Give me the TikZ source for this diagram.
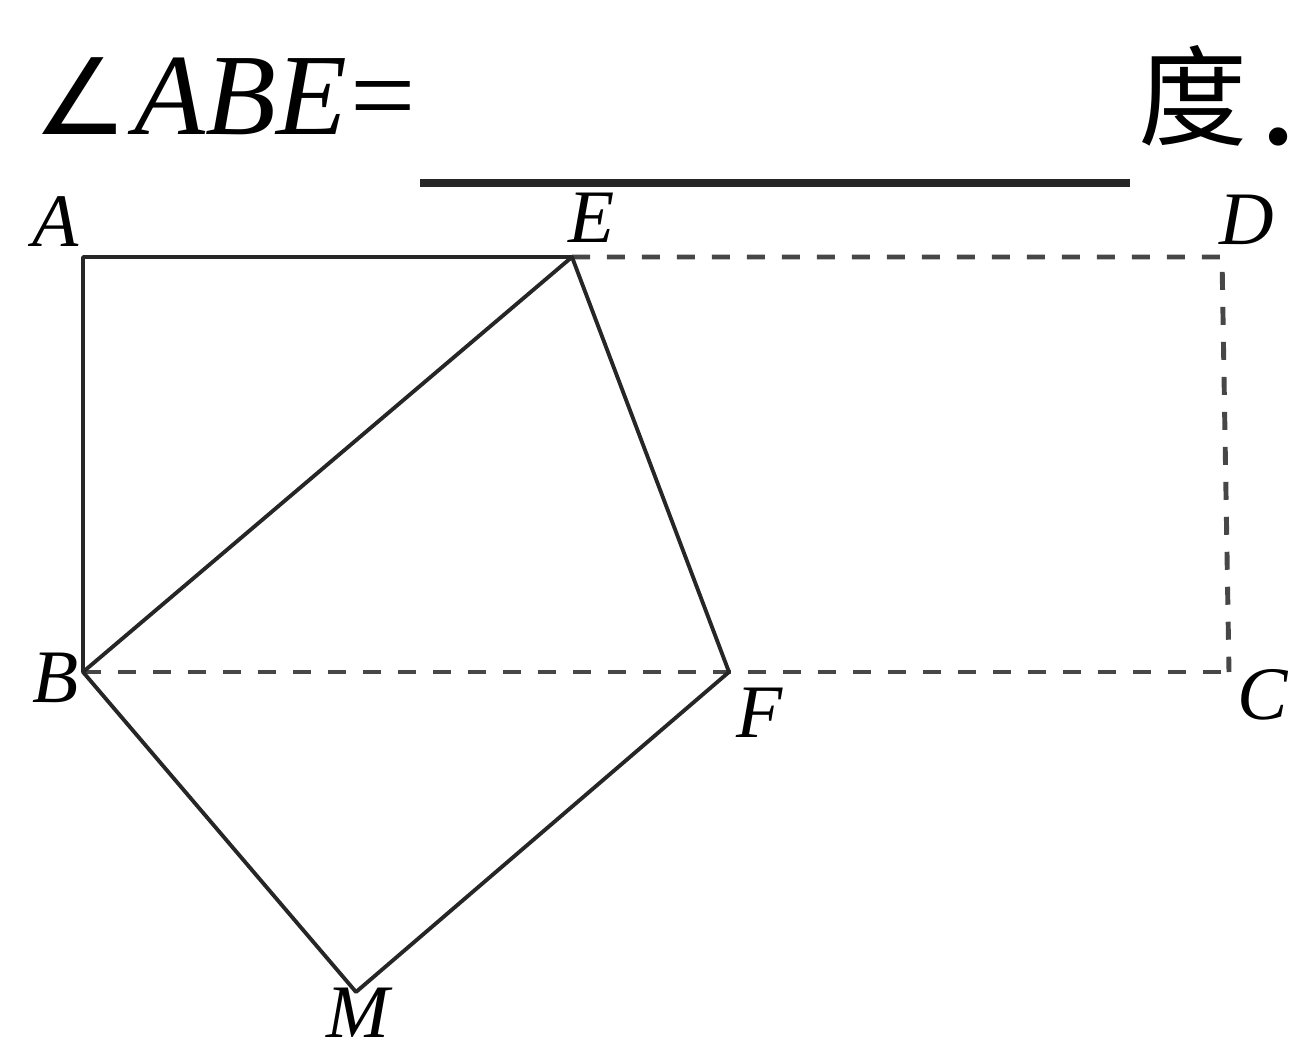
\documentclass[tikz,border=0pt]{standalone}
\usepackage{fontspec}
\setmainfont{Liberation Serif}
\newfontfamily\cjkf{Noto Sans CJK SC}
\newfontfamily\symf{DejaVu Sans}
\begin{document}
\begin{tikzpicture}[x=0.02cm,y=-0.02cm,
  solidline/.style={line width=2.2pt, black!85, line cap=round, line join=round},
  dashline/.style={line width=2.8pt, black!72, dash pattern=on 0.36cm off 0.34cm},
  lbl/.style={inner sep=0pt, font=\fontsize{43}{43}\selectfont\itshape}]
\useasboundingbox (0,0) rectangle (1299,1047);
% title
\node[anchor=base west, inner sep=0pt, font=\fontsize{66}{66}\selectfont] (title) at (33,135)
  {{\symf\fontsize{60}{60}\selectfont ∠}\hspace{4pt}\textit{ABE}\hspace{2pt}=};
\coordinate (u1) at (420,183);
\coordinate (u2) at (1130,183);
\draw[line width=4pt, black!85] (u1) -- (u2);
\node[inner sep=0pt, font=\cjkf\fontsize{62}{62}\selectfont] (du) at (1193,96) {度};
\node[anchor=base, inner sep=0pt, font=\fontsize{64}{64}\selectfont\bfseries] (dot) at (1279,145) {.};
% points
\coordinate (A) at (83,257);
\coordinate (E) at (572,257);
\coordinate (D) at (1222,257);
\coordinate (B) at (83,672);
\coordinate (F) at (729,672);
\coordinate (C) at (1229,672);
\coordinate (M) at (356,992);
% dashed
\draw[dashline] (E) -- (D) -- (C);
\draw[dashline] (B) -- (C);
% solid
\draw[solidline] (E) -- (A) -- (B) -- (E) -- (F) -- (M) -- (B);
% labels
\node[lbl] (lA) at (56,222) {A};
\node[lbl] (lE) at (592,218) {E};
\node[lbl] (lD) at (1247,220) {D};
\node[lbl] (lB) at (56,678) {B};
\node[lbl] (lF) at (760,713) {F};
\node[lbl] (lC) at (1263,695) {C};
\node[lbl] (lM) at (358,1013) {M};
\end{tikzpicture}
\end{document}
